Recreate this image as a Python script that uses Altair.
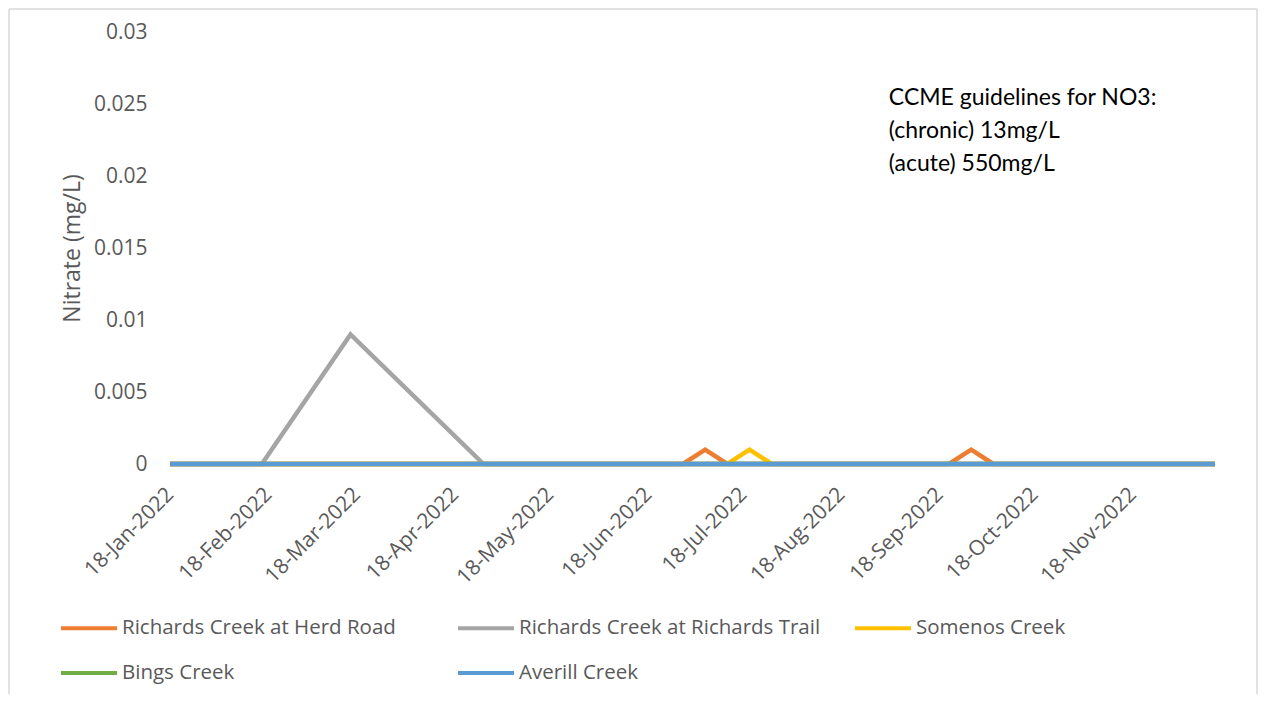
import altair as alt
import pandas as pd

series_names = ["Richards Creek at Herd Road", "Richards Creek at Richards Trail",
                "Somenos Creek", "Bings Creek", "Averill Creek"]
series_colors = ["#ED7D31", "#A5A5A5", "#FFC000", "#70AD47", "#5B9BD5"]

herd_dates = ["2022-01-18", "2022-06-29", "2022-07-06", "2022-07-13",
              "2022-09-21", "2022-09-28", "2022-10-05", "2022-12-14"]
herd_vals = [0, 0, 0.001, 0, 0, 0.001, 0, 0]

trail_dates = ["2022-01-18", "2022-02-16", "2022-03-16", "2022-04-27", "2022-12-14"]
trail_vals = [0, 0, 0.009, 0, 0]

somenos_dates = ["2022-01-18", "2022-07-13", "2022-07-20", "2022-07-27", "2022-12-14"]
somenos_vals = [0, 0, 0.001, 0, 0]

bings_dates = ["2022-01-18", "2022-12-14"]
bings_vals = [0, 0]

averill_dates = ["2022-01-18", "2022-12-14"]
averill_vals = [0, 0]

y_ticks = [0, 0.005, 0.01, 0.015, 0.02, 0.025, 0.03]
x_tick_months = [1, 2, 3, 4, 5, 6, 7, 8, 9, 10, 11]

annot_text = "CCME guidelines for NO3:\n(chronic) 13mg/L\n(acute) 550mg/L"
annot_x = "2022-09-02"
annot_y = 0.0254

rows = []
for name, ds, vs in [(series_names[0], herd_dates, herd_vals),
                     (series_names[1], trail_dates, trail_vals),
                     (series_names[2], somenos_dates, somenos_vals),
                     (series_names[3], bings_dates, bings_vals)]:
    for d, v in zip(ds, vs):
        rows.append({"site": name, "date": d, "nitrate": v})
base_df = pd.DataFrame(rows)
top_df = pd.DataFrame({"site": series_names[4], "date": averill_dates, "nitrate": averill_vals})

FONT = "Open Sans"
TXT = "#595959"

x_enc = alt.X("date:T",
              scale=alt.Scale(type="utc",
                              domain=[alt.DateTime(year=2022, month=1, date=18, utc=True),
                                      alt.DateTime(year=2022, month=12, date=14, utc=True)]),
              axis=alt.Axis(values=[alt.DateTime(year=2022, month=m, date=18, utc=True) for m in x_tick_months],
                            format="%d-%b-%Y", labelAngle=-45, labelAlign="right",
                            labelBaseline="middle", labelPadding=27, ticks=False, tickSize=0,
                            grid=False, domainColor="#d9d9d9", domainWidth=1,
                            labelFont=FONT, labelFontSize=21, labelColor=TXT,
                            labelOverlap=False, labelFlush=False, title=None))
y_enc = alt.Y("nitrate:Q",
              scale=alt.Scale(domain=[0, 0.03], nice=False),
              axis=alt.Axis(values=y_ticks, format="~g", ticks=False, tickSize=0,
                            domain=False, grid=False, labelPadding=23,
                            labelFont=FONT, labelFontSize=21, labelColor=TXT,
                            title="Nitrate (mg/L)", titleFont=FONT, titleFontSize=23,
                            titleFontWeight="normal", titleColor=TXT,
                            titleX=-98, titleY=216, titleAngle=-90,
                            titleAlign="center", titleBaseline="middle"))
color_enc = alt.Color("site:N",
                      scale=alt.Scale(domain=series_names, range=series_colors),
                      legend=alt.Legend(title=None, orient="none", legendX=-111, legendY=566,
                                        direction="horizontal",
                                        columns=3, gridAlign="all", columnPadding=26,
                                        rowPadding=4, symbolType="stroke",
                                        symbolSize=3136, symbolStrokeWidth=4,
                                        labelFont=FONT, labelFontSize=20.5, labelColor=TXT,
                                        labelLimit=500, labelOffset=3))

base = alt.Chart(base_df).mark_line(strokeWidth=4.5).encode(
    x=x_enc, y=y_enc, color=color_enc, detail="site:N")
top = alt.Chart(top_df).mark_line(strokeWidth=4.5).encode(
    x="date:T", y="nitrate:Q", color="site:N")

annot_df = pd.DataFrame({"date": [annot_x], "nitrate": [annot_y], "label": [annot_text]})
annot = alt.Chart(annot_df).mark_text(align="left", baseline="middle", lineBreak="\n",
                                      lineHeight=33, font="Lato", fontSize=23,
                                      color="#000000").encode(
    x="date:T", y="nitrate:Q", text="label:N")

bdf = pd.DataFrame({"k": [0]})
bcol = "#d9d9d9"
b_top = alt.Chart(bdf).mark_rule(stroke=bcol, strokeWidth=1.5).encode(
    x=alt.value(-161), x2=alt.value(1087), y=alt.value(-23))
b_left = alt.Chart(bdf).mark_rule(stroke=bcol, strokeWidth=1.5).encode(
    x=alt.value(-161), y=alt.value(-23), y2=alt.value(700))
b_right = alt.Chart(bdf).mark_rule(stroke=bcol, strokeWidth=1.5).encode(
    x=alt.value(1087), y=alt.value(-23), y2=alt.value(700))

chart = alt.layer(b_top, b_left, b_right, base, top, annot).properties(
    width=1045, height=432, background="white",
    padding={"left": 162, "top": 24, "right": 44, "bottom": 230},
    autosize=alt.AutoSizeParams(type="none"),
).configure_view(stroke="transparent", strokeWidth=0)

chart.save("out.html", embed_options={"renderer": "svg", "actions": False})
